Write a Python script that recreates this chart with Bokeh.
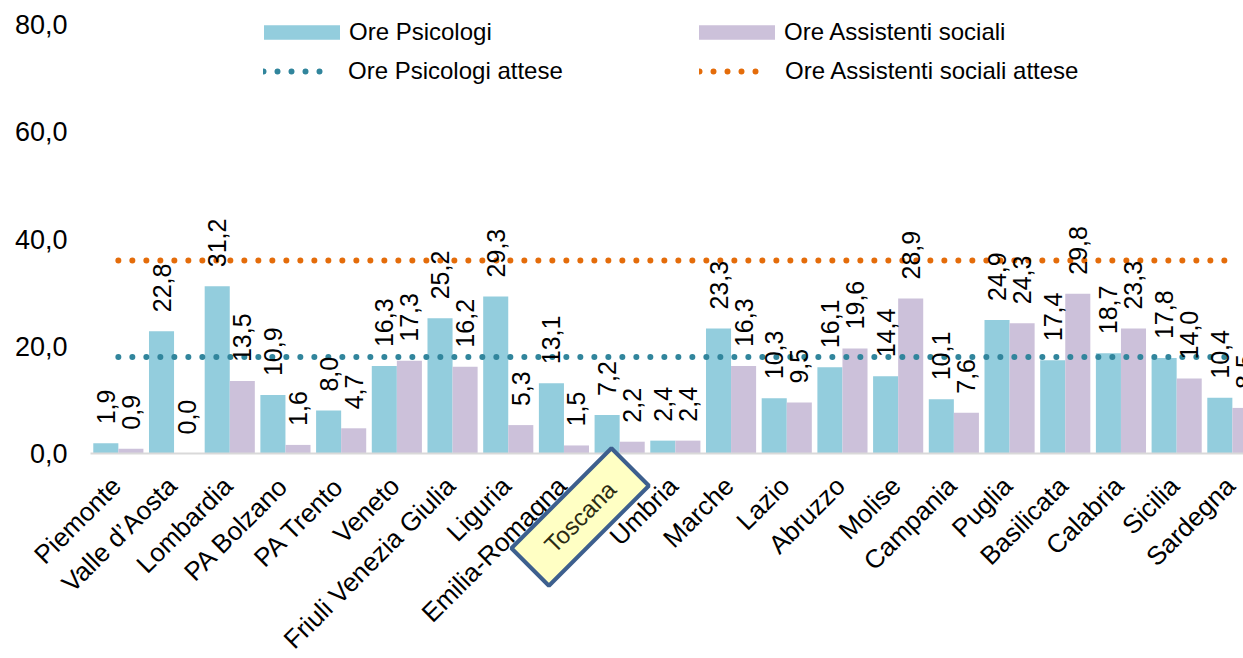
import math
from bokeh.plotting import figure
from bokeh.models import (ColumnDataSource, Range1d, Legend, LegendItem, Label)
from bokeh.core.properties import value
from bokeh.embed import file_html
from bokeh.resources import INLINE

# ---------------- data ----------------
regions = ["Piemonte", "Valle d\u2019Aosta", "Lombardia", "PA Bolzano", "PA Trento", "Veneto",
           "Friuli Venezia Giulia", "Liguria", "Emilia-Romagna", "Toscana", "Umbria", "Marche",
           "Lazio", "Abruzzo", "Molise", "Campania", "Puglia", "Basilicata", "Calabria",
           "Sicilia", "Sardegna"]
ore_psicologi = [1.9, 22.8, 31.2, 10.9, 8.0, 16.3, 25.2, 29.3, 13.1, 7.2, 2.4, 23.3, 10.3,
                 16.1, 14.4, 10.1, 24.9, 17.4, 18.7, 17.8, 10.4]
ore_assistenti = [0.9, 0.0, 13.5, 1.6, 4.7, 17.3, 16.2, 5.3, 1.5, 2.2, 2.4, 16.3, 9.5,
                  19.6, 28.9, 7.6, 24.3, 29.8, 23.3, 14.0, 8.5]
ore_psicologi_attese = [18.0, 18.0, 18.0, 18.0, 18.0, 18.0, 18.0, 18.0, 18.0, 18.0, 18.0,
                        18.0, 18.0, 18.0, 18.0, 18.0, 18.0, 18.0, 18.0, 18.0, 18.0]
ore_assistenti_attese = [36.0, 36.0, 36.0, 36.0, 36.0, 36.0, 36.0, 36.0, 36.0, 36.0, 36.0,
                         36.0, 36.0, 36.0, 36.0, 36.0, 36.0, 36.0, 36.0, 36.0, 36.0]
y_ticks = [0, 20, 40, 60, 80]
y_tick_labels = ["0,0", "20,0", "40,0", "60,0", "80,0"]
highlight = "Toscana"

# ---------------- styling / layout ----------------
FONT = "Liberation Sans"
C_PSI = "#93CDDD"
C_AS = "#CCC1DA"
C_PSI_L = "#31859C"
C_AS_L = "#E46C0A"

W, H = 1243, 658
PA_LEFT, PA_TOP, PA_BOTTOM = 90, 24, 453   # plot-area edges in px (value 80 at top, 0 at bottom)
CAT_LO, CAT_HI = -0.5, 20.2                # category span shown from PA_LEFT to the right edge
Y_TOP = 80
sx = (W - PA_LEFT) / (CAT_HI - CAT_LO)
sy = (PA_BOTTOM - PA_TOP) / Y_TOP
# the frame fills the whole canvas so that rotated labels and the highlight box are not clipped
X0 = CAT_LO - PA_LEFT / sx
X1 = CAT_HI
Y1 = Y_TOP + PA_TOP / sy
Y0 = -(H - PA_BOTTOM) / sy
BW = 0.45

idx = list(range(len(regions)))

p = figure(width=W, height=H, output_backend="svg", toolbar_location=None,
           x_range=Range1d(X0, X1), y_range=Range1d(Y0, Y1),
           min_border_left=0, min_border_right=0, min_border_top=0, min_border_bottom=0)
p.outline_line_color = None
p.xgrid.grid_line_color = None
p.ygrid.grid_line_color = None
p.background_fill_color = "white"
p.border_fill_color = "white"
p.xaxis.visible = False
p.yaxis.visible = False

src = ColumnDataSource(dict(
    x=idx,
    xp=[i - BW / 2 for i in idx],
    xa=[i + BW / 2 for i in idx],
    psi=ore_psicologi,
    ass=ore_assistenti,
    psi_att=ore_psicologi_attese,
    ass_att=ore_assistenti_attese,
    lpsi=[f"{v:.1f}".replace(".", ",") for v in ore_psicologi],
    lass=[f"{v:.1f}".replace(".", ",") for v in ore_assistenti],
    region=regions,
))
ysrc = ColumnDataSource(dict(y=y_ticks, label=y_tick_labels))

r_psi = p.vbar(x="xp", top="psi", bottom=0, width=BW, source=src, fill_color=C_PSI, line_color=None)
r_as = p.vbar(x="xa", top="ass", bottom=0, width=BW, source=src, fill_color=C_AS, line_color=None)

# category axis line at value 0
p.segment(x0=CAT_LO, x1=X1, y0=0, y1=0, line_color="#D9D9D9", line_width=2)

r_lpsi = p.line(x="x", y="psi_att", source=src, line_color=C_PSI_L, line_width=6,
                line_dash="0 14", line_cap="round")
r_las = p.line(x="x", y="ass_att", source=src, line_color=C_AS_L, line_width=6,
               line_dash="0 14", line_cap="round")

for xcol, lcol, ycol in (("xp", "lpsi", "psi"), ("xa", "lass", "ass")):
    p.text(x=xcol, y=ycol, text=lcol, source=src, angle=math.pi / 2, text_align="left",
           text_baseline="middle", y_offset=-19, text_font=value(FONT),
           text_font_size="25px", text_color="#000000")

# category labels (rotated 45 degrees, ending under each category)
p.text(x="x", y=0, text="region", source=src, angle=math.pi / 4, text_align="right",
       text_baseline="middle", y_offset=28, x_offset=-2, text_font=value(FONT),
       text_font_size="26px", text_color="#000000")

# value-axis labels
p.text(x=X0, y="y", text="label", source=ysrc, text_align="right", text_baseline="middle",
       x_offset=67, text_font=value(FONT), text_font_size="27px", text_color="#000000")


def add_legend(label, renderer, gx, row_center_px, gw, gh, standoff):
    leg = Legend(items=[LegendItem(label=label, renderers=[renderer])],
                 location=(gx, H - row_center_px - 13),
                 glyph_width=gw, glyph_height=gh, label_height=26, label_standoff=standoff,
                 padding=0, margin=0, border_line_color=None, background_fill_alpha=0,
                 label_text_font=FONT, label_text_font_size="24px", label_text_color="#000000")
    p.add_layout(leg)


add_legend("Ore Psicologi", r_psi, 254, 33, 95, 18, 0)
add_legend("Ore Assistenti sociali", r_as, 689, 33, 95, 18, 0)
add_legend("Ore Psicologi attese", r_lpsi, 263, 72, 70, 18, 15)
add_legend("Ore Assistenti sociali attese", r_las, 699, 72, 70, 18, 16)

# highlight box on the Toscana label
hi = regions.index(highlight)
cx_px, cy_px = -39.5, 63.5      # box centre offset from the category tick (px, y down)
p.add_layout(Label(x=hi + cx_px / sx, y=-cy_px / sy, text=highlight, angle=math.pi / 4,
                   text_align="center", text_baseline="middle", text_font=FONT,
                   text_font_size="24px", text_color="#2B2B12",
                   background_fill_color="#FFFFC4", background_fill_alpha=1.0,
                   border_line_color="#3D5F8E", border_line_width=4,
                   padding=(26, 13), level="overlay"))

open("out.html", "w").write(file_html(p, INLINE))
